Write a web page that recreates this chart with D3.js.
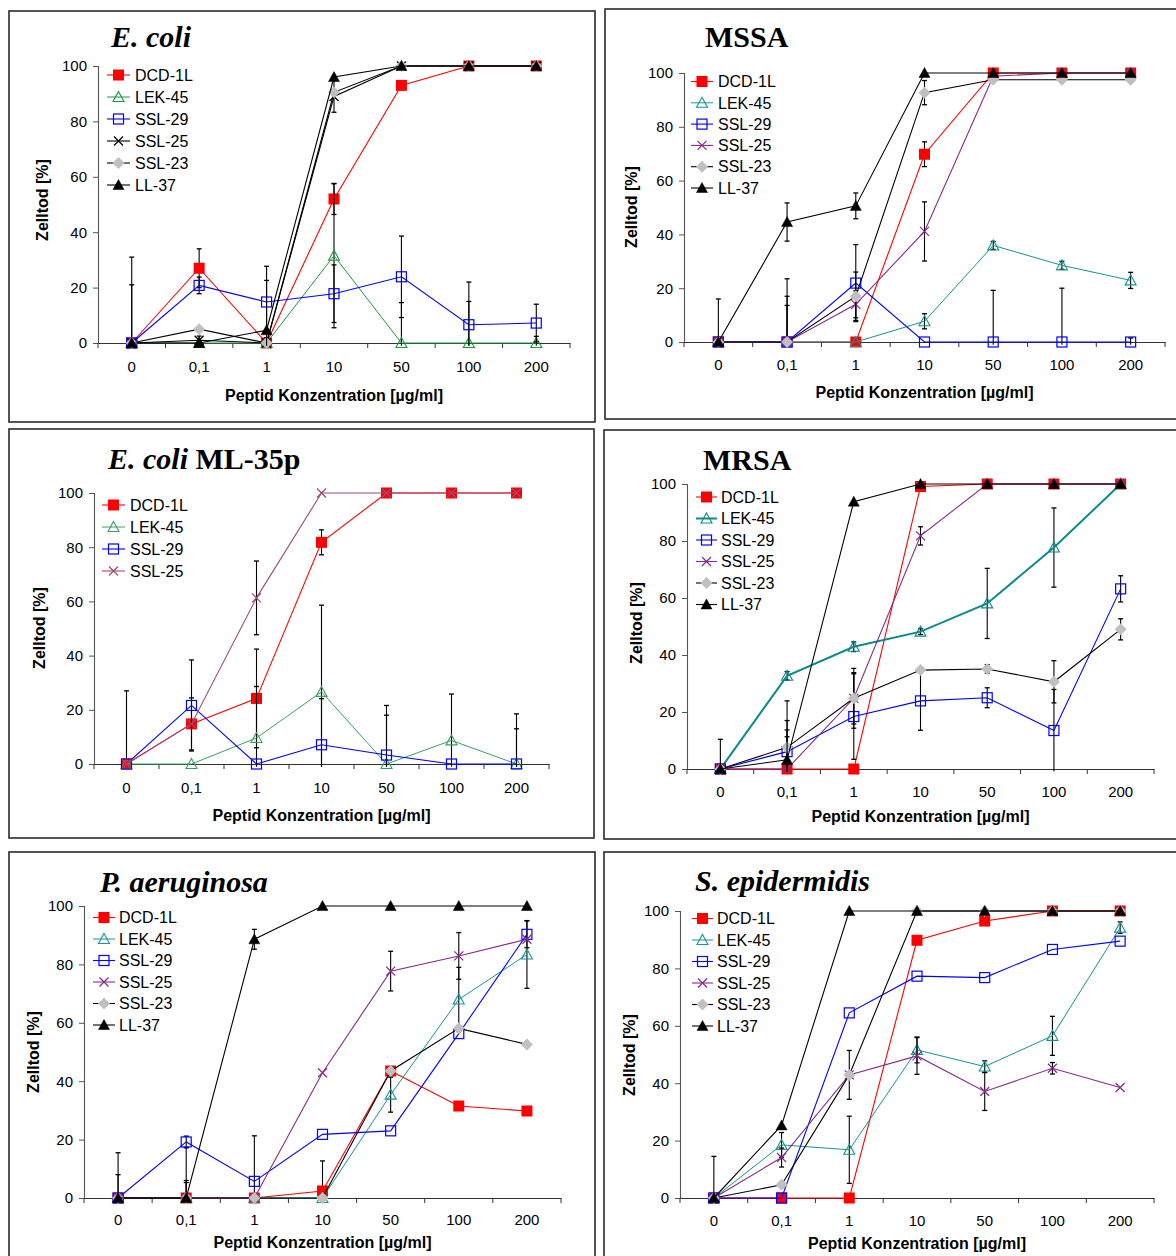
<!DOCTYPE html>
<html>
<head>
<meta charset="utf-8">
<script src="https://cdn.jsdelivr.net/npm/d3@7"></script>
<style>
  html, body { margin: 0; padding: 0; background: #fff; }
  svg { display: block; }
  text { font-family: "Liberation Sans", Arial, sans-serif; fill: #000; }
  .title { font-family: "Liberation Serif", "Times New Roman", serif; font-weight: bold; font-size: 30px; }
</style>
</head>
<body>
<svg id="chart" width="1176" height="1256"></svg>
<script>
// Concentrations (x categories), series and y ticks
const categories = ["0", "0,1", "1", "10", "50", "100", "200"];
const seriesNames = ["DCD-1L", "LEK-45", "SSL-29", "SSL-25", "SSL-23", "LL-37"];
const yTicks = [0, 20, 40, 60, 80, 100];

// Zelltod [%] per series (rows follow seriesNames), with error bar half-widths
const ecoliValues = [
  [0, 27, 0, 52, 93, 100, 100],
  [0, 0, 0, 31.5, 0, 0, 0],
  [0, 20.8, 14.8, 17.8, 23.9, 6.6, 7.2],
  [0, 1, 0, 89, 100, 100, 100],
  [0, 5, 0, 90.5, 100, 100, 100],
  [0, 0, 4.6, 96, 100, 100, 100]
];
const ecoliErrors = [
  [31, 7, null, 5.6, null, null, null],
  [null, null, null, 26, 14.6, 15, 2.4],
  [21, 3, 12.9, 10.4, 14.7, 15.4, 6.8],
  [null, 1.5, null, 5.7, null, null, null],
  [null, null, null, null, null, null, null],
  [null, null, 18, null, null, null, null]
];

const mssaValues = [
  [0, 0, 0, 69.8, 100, 100, 100],
  [0, 0, 0, 7.7, 35.9, 28.5, 22.9],
  [0, 0, 21.9, 0, 0, 0, 0],
  [0, 0, 14, 41.1, 98.8, 100, 100],
  [0, 0, 17, 92.7, 97.5, 97.5, 97.5],
  [0, 44.6, 50.6, 100, 100, 100, 100]
];
const mssaErrors = [
  [null, null, null, 4.6, null, null, null],
  [null, null, null, 2.8, 1.5, 1.5, 3],
  [null, 23.5, 14.3, null, 19.2, 20, 1.5],
  [null, 13.6, 5, 11, null, null, null],
  [null, 17, 9, 4.5, null, null, null],
  [16, 7.1, 4.8, null, null, null, null]
];

const ecoliMLValues = [
  [0, 14.8, 24.2, 81.8, 100, 100, 100],
  [0, 0, 9.6, 26.6, 0, 8.7, 0],
  [0, 21.6, 0, 7.1, 3.3, 0, 0],
  [0, 14.8, 61.3, 100, 100, 100, 100]
];
const ecoliMLErrors = [
  [27, 9.6, 18.2, 4.6, null, null, null],
  [null, null, 19, 32, 18, 17.1, 13],
  [null, 16.8, null, 17, 18.3, null, 18.5],
  [null, null, 13.6, null, null, null, null]
];

const mrsaValues = [
  [0, 0, 0, 99.1, 100, 100, 100],
  [0, 32.7, 42.9, 48.2, 58.1, 77.7, 100],
  [0, 6.1, 18.4, 23.9, 25, 13.5, 63.2],
  [0, 0, 24.8, 81.8, 100, 100, 100],
  [0, 7.6, 24.8, 34.7, 35.1, 30.6, 49],
  [0, 3.2, 93.8, 100, 100, 100, 100]
];
const mrsaErrors = [
  [null, null, null, null, null, null, null],
  [null, 1.5, 1.7, 1, 12.3, 13.9, null],
  [null, 7.6, 15, 10.3, 3.5, 14.4, 4.6],
  [null, 17, 10.5, 3.2, null, null, null],
  [null, 16.3, 9, null, 1.5, 7.4, 3.7],
  [10.4, 8.1, null, null, null, null, null]
];

const paerValues = [
  [0, 0, 0, 2.4, 43.5, 31.5, 29.8],
  [0, 0, 0, 0, 35.4, 68, 83.4],
  [0, 19.2, 5.7, 21.8, 23, 56.3, 90.3],
  [0, 0, 0, 42.9, 77.7, 82.9, 88.6],
  [0, 0, 0, 0, 43.5, 58.1, 52.6],
  [0, 0, 88.6, 100, 100, 100, 100]
];
const paerErrors = [
  [null, 5.3, null, 10.3, null, null, null],
  [null, 17.3, null, null, 6, 11, 11.6],
  [15.5, 2, 15.6, null, null, null, 4.6],
  [null, 6, null, null, 6.8, 8, null],
  [null, null, null, null, null, null, null],
  [8, null, 3.4, null, null, null, null]
];

const sepiValues = [
  [0, 0, 0, 89.8, 96.5, 100, 100],
  [0, 18.5, 16.8, 51.6, 45.8, 56.5, 94.2],
  [0, 0, 64.5, 77.3, 76.8, 86.6, 89.5],
  [0, 14.1, 42.9, 49.5, 37.1, 45.2, 38.5],
  [0, 4.6, 42.9, 100, 100, 100, 100],
  [0, 25.3, 100, 100, 100, 100, 100]
];
const sepiErrors = [
  [null, null, null, null, null, null, null],
  [null, 4.3, 11.7, 4.5, 2, 6.8, 2],
  [null, null, null, null, null, null, null],
  [null, 3.3, 8.5, 6.4, 6.6, 2, null],
  [null, null, null, null, null, null, null],
  [14.5, null, null, null, null, null, null]
];

// Marker shape and colours per series
const markerShapes = ["squareFilled", "triangleOpen", "squareOpen", "cross", "diamond", "triangleFilled"];
const TEAL = "#159494", PURPLE = "#852a8a";
const styleSets = {
  ecoli:   { colors: ["#ff0000", "#1f9540", "#0000ff", "#000000", "#000000", "#000000"], lek: 1 },
  mssa:    { colors: ["#ff0000", TEAL, "#0000ff", PURPLE, "#000000", "#000000"], lek: 1 },
  ecoliML: { colors: ["#ff0000", "#3a9f62", "#0000ff", "#9a4a78", "#000000", "#000000"], lek: 1 },
  mrsa:    { colors: ["#ff0000", "#0a8a8a", "#0000ff", PURPLE, "#000000", "#000000"], lek: 2 },
  paer:    { colors: ["#ff0000", TEAL, "#0000ff", PURPLE, "#000000", "#000000"], lek: 1 },
  sepi:    { colors: ["#ff0000", TEAL, "#0000ff", PURPLE, "#000000", "#000000"], lek: 1 }
};

// Panel layout
const panels = [
  { style: "ecoli", values: ecoliValues, errors: ecoliErrors,
    frame: [9, 11, 595, 422], xr: [98, 570], yr: [343, 66],
    title: [["E. coli", true]], titlePos: [111, 47],
    legend: [107, 130, 135, 75, 22], ylab: [42, 200], xlabY: 395, xtickY: 367 },
  { style: "mssa", values: mssaValues, errors: mssaErrors,
    frame: [605, 9, 1190, 419], xr: [684, 1165], yr: [342, 73],
    title: [["MSSA", false]], titlePos: [705, 47],
    legend: [691, 713, 718, 81.5, 21.3], ylab: [631, 207], xlabY: 392, xtickY: 365 },
  { style: "ecoliML", values: ecoliMLValues, errors: ecoliMLErrors,
    frame: [9, 429, 594, 838], xr: [94, 549], yr: [764, 493],
    title: [["E. coli", true], [" ML-35p", false]], titlePos: [108, 469],
    legend: [102, 125, 130, 505, 22], ylab: [39, 628], xlabY: 815, xtickY: 788 },
  { style: "mrsa", values: mrsaValues, errors: mrsaErrors,
    frame: [604, 430, 1190, 839], xr: [687, 1154], yr: [769, 484],
    title: [["MRSA", false]], titlePos: [703, 470],
    legend: [696, 717, 721, 497, 21.5], ylab: [636, 623], xlabY: 816, xtickY: 792 },
  { style: "paer", values: paerValues, errors: paerErrors,
    frame: [9, 852, 595, 1270], xr: [84, 561], yr: [1198, 906],
    title: [["P. aeruginosa", true]], titlePos: [100, 892],
    legend: [93, 115, 119, 917.5, 21.5], ylab: [33, 1052], xlabY: 1242, xtickY: 1220 },
  { style: "sepi", values: sepiValues, errors: sepiErrors,
    frame: [604, 852, 1190, 1270], xr: [680, 1154], yr: [1198, 911],
    title: [["S. epidermidis", true]], titlePos: [695, 891],
    legend: [692, 713, 717, 918.5, 21.5], ylab: [629, 1055], xlabY: 1243, xtickY: 1221 }
];

const svg = d3.select("#chart");
svg.append("rect").attr("width", 1176).attr("height", 1256).attr("fill", "#fff");

function drawMarker(g, shape, color, cx, cy) {
  if (shape === "squareFilled") {
    g.append("rect").attr("x", cx - 5.5).attr("y", cy - 5.5).attr("width", 11).attr("height", 11)
      .attr("fill", color).attr("stroke", "none");
  } else if (shape === "squareOpen") {
    g.append("rect").attr("x", cx - 5).attr("y", cy - 5).attr("width", 10).attr("height", 10)
      .attr("fill", "none").attr("stroke", color).attr("stroke-width", 1.2);
  } else if (shape === "triangleOpen" || shape === "triangleFilled") {
    const p = d3.path();
    p.moveTo(cx, cy - 5.5); p.lineTo(cx + 5.5, cy + 4.5); p.lineTo(cx - 5.5, cy + 4.5); p.closePath();
    g.append("path").attr("d", p.toString())
      .attr("fill", shape === "triangleFilled" ? color : "none")
      .attr("stroke", color).attr("stroke-width", shape === "triangleFilled" ? 0.5 : 1.1);
  } else if (shape === "diamond") {
    const p = d3.path();
    p.moveTo(cx, cy - 6); p.lineTo(cx + 6, cy); p.lineTo(cx, cy + 6); p.lineTo(cx - 6, cy); p.closePath();
    g.append("path").attr("d", p.toString()).attr("fill", "#c0c0c0").attr("stroke", "none");
  } else if (shape === "cross") {
    const p = d3.path();
    p.moveTo(cx - 4.5, cy - 4.5); p.lineTo(cx + 4.5, cy + 4.5);
    p.moveTo(cx + 4.5, cy - 4.5); p.lineTo(cx - 4.5, cy + 4.5);
    g.append("path").attr("d", p.toString()).attr("fill", "none")
      .attr("stroke", color).attr("stroke-width", 1.2);
  }
}

panels.forEach(pn => {
  const st = styleSets[pn.style];
  const g = svg.append("g");
  const [fx0, fy0, fx1, fy1] = pn.frame;

  g.append("rect").attr("x", fx0).attr("y", fy0).attr("width", fx1 - fx0).attr("height", fy1 - fy0)
    .attr("fill", "none").attr("stroke", "#2a2a2a").attr("stroke-width", 1.6);

  const x = d3.scaleBand().domain(categories).range(pn.xr).padding(0);
  const y = d3.scaleLinear().domain([0, 100]).range(pn.yr);
  const cx = c => x(c) + x.bandwidth() / 2;

  // y axis
  const yAxis = g.append("g").attr("transform", `translate(${pn.xr[0]},0)`)
    .call(d3.axisLeft(y).tickValues(yTicks).tickSize(5).tickPadding(6).tickFormat(d3.format("d")));
  yAxis.select(".domain").attr("stroke", "#555").attr("stroke-width", 1.1);
  yAxis.selectAll(".tick line").attr("stroke", "#555");
  yAxis.selectAll(".tick text").attr("font-size", 15).attr("font-family", '"Liberation Sans", Arial, sans-serif').attr("fill", "#000");

  // x axis: labels at category centres, ticks at category boundaries
  const xAxis = g.append("g").attr("transform", `translate(0,${pn.yr[0]})`)
    .call(d3.axisBottom(x).tickSize(0).tickPadding(pn.xtickY - pn.yr[0] - 5.5));
  xAxis.select(".domain").attr("stroke", "#333").attr("stroke-width", 1.1);
  xAxis.selectAll(".tick text").attr("font-size", 15).attr("font-family", '"Liberation Sans", Arial, sans-serif').attr("fill", "#000");
  const bounds = categories.map(c => x(c)).concat([pn.xr[1]]);
  g.selectAll(null).data(bounds).enter().append("line")
    .attr("x1", d => d).attr("x2", d => d)
    .attr("y1", pn.yr[0]).attr("y2", pn.yr[0] + 5)
    .attr("stroke", "#333").attr("stroke-width", 1);

  // axis titles
  g.append("text").attr("transform", `translate(${pn.ylab[0]},${pn.ylab[1]}) rotate(-90)`)
    .attr("text-anchor", "middle").attr("dy", "0.35em")
    .attr("font-weight", "bold").attr("font-size", 16).text("Zelltod [%]");
  g.append("text").attr("x", (pn.xr[0] + pn.xr[1]) / 2).attr("y", pn.xlabY)
    .attr("text-anchor", "middle").attr("dy", "0.35em")
    .attr("font-weight", "bold").attr("font-size", 16).text("Peptid Konzentration [µg/ml]");

  // panel title
  const t = g.append("text").attr("class", "title").attr("x", pn.titlePos[0]).attr("y", pn.titlePos[1]);
  pn.title.forEach(([s, it]) => t.append("tspan").attr("font-style", it ? "italic" : "normal").text(s));

  // series
  const line = d3.line().x((d, i) => cx(categories[i])).y(d => y(d));
  pn.values.forEach((vals, si) => {
    const color = st.colors[si];
    const sg = g.append("g");
    const errs = pn.errors[si];
    vals.forEach((v, i) => {
      const e = errs[i];
      if (e == null) return;
      const px = cx(categories[i]);
      const top = y(Math.min(v + e, 101));
      const bot = y(Math.max(v - e, -1));
      sg.append("line").attr("x1", px).attr("x2", px).attr("y1", top).attr("y2", bot)
        .attr("stroke", "#000").attr("stroke-width", 1.1);
      [top, bot].forEach(yy => {
        if (yy > pn.yr[0] + 0.5) return;
        sg.append("line").attr("x1", px - 2.5).attr("x2", px + 2.5).attr("y1", yy).attr("y2", yy)
          .attr("stroke", "#000").attr("stroke-width", 1.3);
      });
    });
    sg.append("path").datum(vals).attr("d", line).attr("fill", "none")
      .attr("stroke", color).attr("stroke-width", si === 1 ? st.lek : 1.1);
    vals.forEach((v, i) => drawMarker(sg, markerShapes[si], color, cx(categories[i]), y(v)));
  });

  // legend
  const [lx0, lx1, tx, ly0, ldy] = pn.legend;
  pn.values.forEach((vals, si) => {
    const color = st.colors[si];
    const yy = ly0 + si * ldy;
    const lg = g.append("g");
    lg.append("line").attr("x1", lx0).attr("x2", lx1).attr("y1", yy).attr("y2", yy)
      .attr("stroke", color).attr("stroke-width", si === 1 ? st.lek : 1.1);
    drawMarker(lg, markerShapes[si], color, (lx0 + lx1) / 2, yy);
    lg.append("text").attr("x", tx).attr("y", yy).attr("dy", "0.36em")
      .attr("font-size", 16).text(seriesNames[si]);
  });
});
</script>
</body>
</html>
